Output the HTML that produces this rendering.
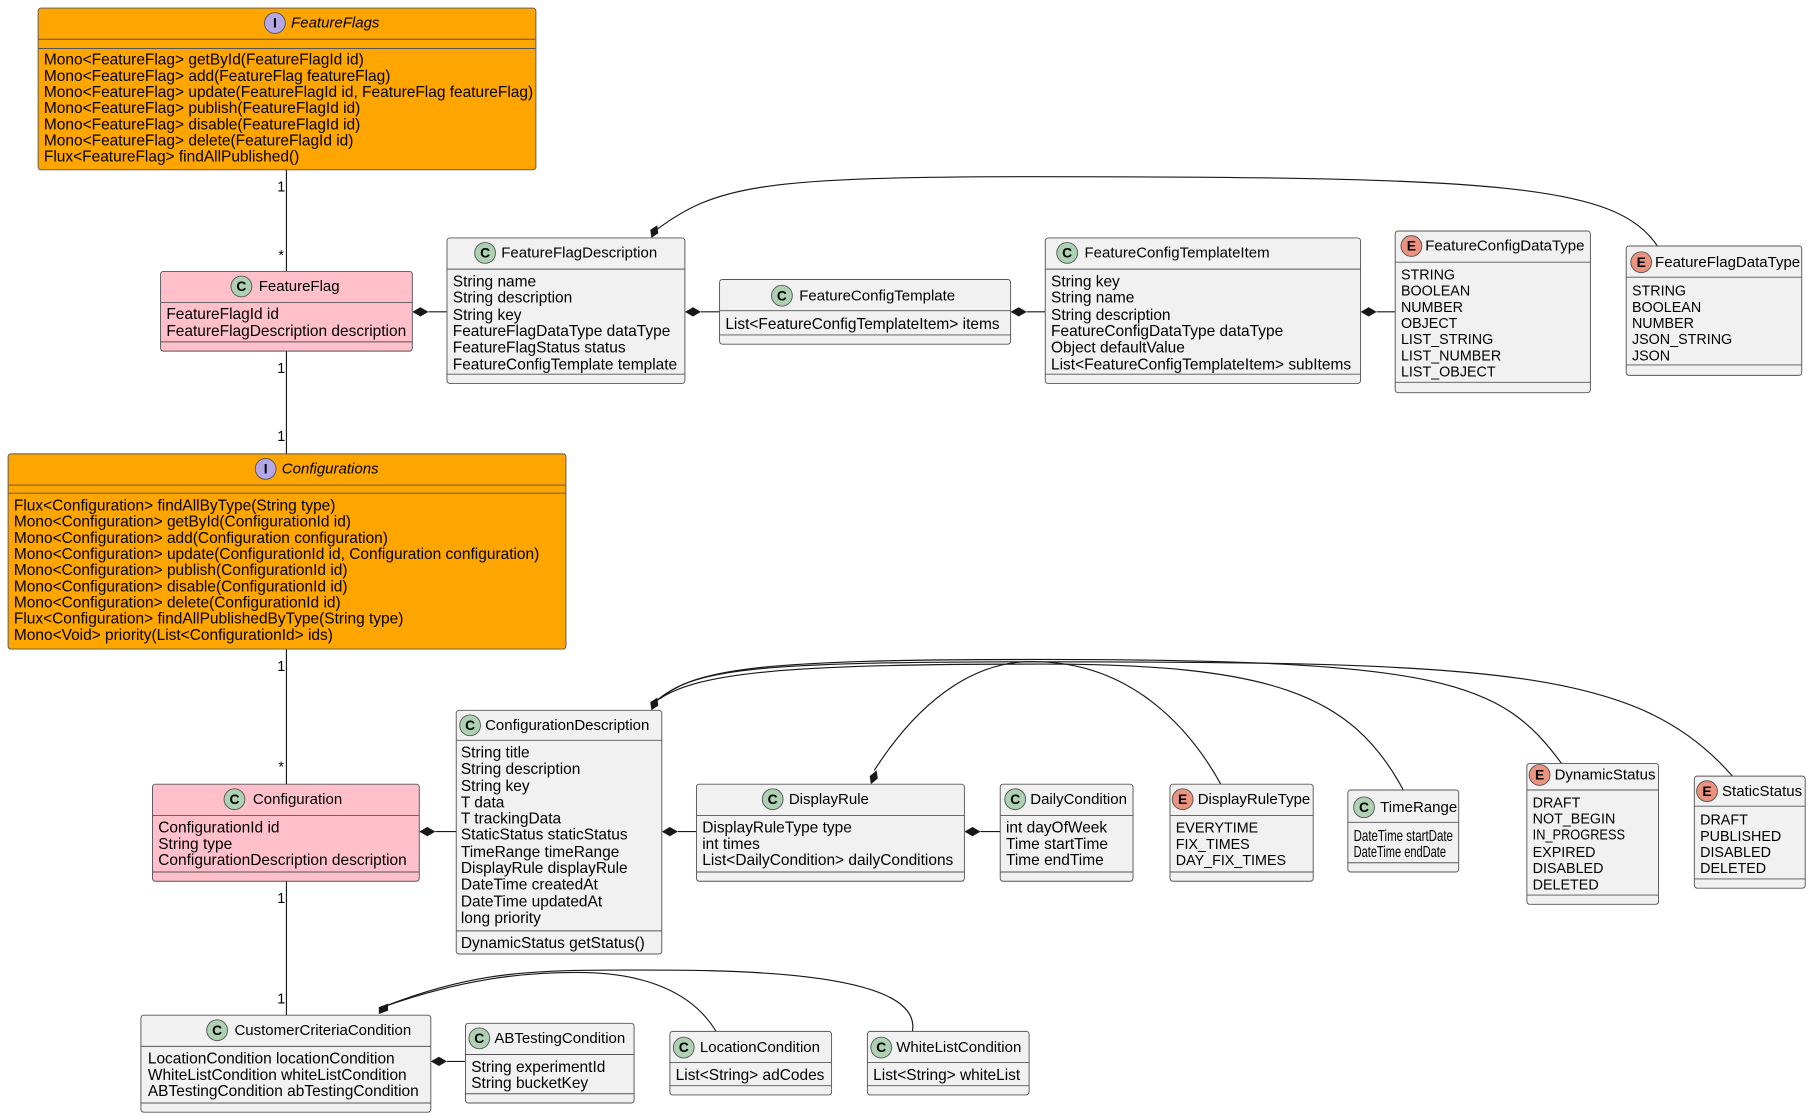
<!DOCTYPE html>
<html><head><meta charset="utf-8"><style>
html,body{margin:0;padding:0;background:#fff;}
svg{display:block;}
text{font-family:"Liberation Sans",sans-serif;font-size:13.4px;fill:#000;}
.e{font-size:12.4px;}
.t{font-size:13px;}
.i{font-style:italic;}
.b{stroke:#555;stroke-width:0.8;}
.l{stroke:#181818;stroke-width:1;fill:none;}
.ic{font-family:"Liberation Sans",sans-serif;font-weight:bold;font-size:12px;text-anchor:middle;}
</style></head><body>
<svg width="1811" height="1118" viewBox="0 0 1568 968" xmlns="http://www.w3.org/2000/svg">
<g class="l">
<path d="M248 147 V235"/><path d="M248 304 V393"/><path d="M248 562 V679"/><path d="M248 763 V879"/>
<path d="M371 270 H387"/><path d="M607 270 H623"/><path d="M889 270 H905"/><path d="M1192 270 H1208"/>
<path d="M377 720 H395"/><path d="M587 720 H603"/><path d="M849 720 H866"/><path d="M387 919 H403"/>
<path d="M567 200 C620 160 660 153 900 153 C1300 153 1400 160 1435 213"/>
<path d="M567 608 C600 580 640 573 900 573 C1300 573 1420 580 1500 672"/>
<path d="M567 608 C600 578 660 571 900 571 C1250 571 1300 590 1352 661"/>
<path d="M567 608 C600 582 680 575 900 575 C1100 575 1170 600 1215 684"/>
<path d="M757 667 C800 600 850 570 900 573 C980 575 1030 630 1057 679"/>
<path d="M334 871 C400 845 450 840 520 840 C600 840 800 835 790 893"/>
<path d="M334 871 C400 848 450 842 500 842 C560 842 600 860 620 893"/>
</g>
<g fill="#181818">
<polygon points="357,270 364,266 371,270 364,274"/><polygon points="593,270 600,266 607,270 600,274"/>
<polygon points="875,270 882,266 889,270 882,274"/><polygon points="1178,270 1185,266 1192,270 1185,274"/>
<polygon points="363,720 370,716 377,720 370,724"/><polygon points="573,720 580,716 587,720 580,724"/>
<polygon points="835,720 842,716 849,720 842,724"/><polygon points="373,919 380,915 387,919 380,923"/>
<polygon points="564,206 563,199 569,195 570,202"/><polygon points="564,615 563,608 569,604 570,611"/>
<polygon points="754,679 753,672 759,667 760,674"/><polygon points="328,878 328,872 336,869 336,875"/>
</g>
<g>
<text class="e" x="240" y="166">1</text><text class="e" x="241" y="225">*</text>
<text class="e" x="240" y="323">1</text><text class="e" x="240" y="382">1</text>
<text class="e" x="240" y="581">1</text><text class="e" x="241" y="668">*</text>
<text class="e" x="240" y="782">1</text><text class="e" x="240" y="869">1</text>
</g>

<rect class="b" x="33" y="7" width="431" height="140" rx="2.5" fill="#FFA500"/>
<path class="b" d="M33 34 H464 M33 42 H464"/>
<circle cx="238" cy="20" r="9" fill="#B4A7E5" stroke="#555" stroke-width="0.8"/><text class="ic" x="238" y="24">I</text>
<text class="t i" x="252" y="24">FeatureFlags</text>
<text x="38" y="56">Mono&lt;FeatureFlag&gt; getById(FeatureFlagId id)</text>
<text x="38" y="70">Mono&lt;FeatureFlag&gt; add(FeatureFlag featureFlag)</text>
<text x="38" y="84">Mono&lt;FeatureFlag&gt; update(FeatureFlagId id, FeatureFlag featureFlag)</text>
<text x="38" y="98">Mono&lt;FeatureFlag&gt; publish(FeatureFlagId id)</text>
<text x="38" y="112">Mono&lt;FeatureFlag&gt; disable(FeatureFlagId id)</text>
<text x="38" y="126">Mono&lt;FeatureFlag&gt; delete(FeatureFlagId id)</text>
<text x="38" y="140">Flux&lt;FeatureFlag&gt; findAllPublished()</text>

<rect class="b" x="139" y="235" width="218" height="69" rx="2.5" fill="#FFC0CB"/>
<path class="b" d="M139 262 H357 M139 296 H357"/>
<circle cx="209" cy="248" r="9" fill="#ADD1B2" stroke="#555" stroke-width="0.8"/><text class="ic" x="209" y="252">C</text>
<text class="t" x="224" y="252">FeatureFlag</text>
<text x="144" y="276">FeatureFlagId id</text>
<text x="144" y="291">FeatureFlagDescription description</text>

<rect class="b" x="387" y="206" width="206" height="126" rx="2.5" fill="#F1F1F1"/>
<path class="b" d="M387 233 H593 M387 324 H593"/>
<circle cx="420" cy="219" r="9" fill="#ADD1B2" stroke="#555" stroke-width="0.8"/><text class="ic" x="420" y="223">C</text>
<text class="t" x="434" y="223">FeatureFlagDescription</text>
<text x="392" y="248">String name</text><text x="392" y="262">String description</text>
<text x="392" y="277">String key</text><text x="392" y="291">FeatureFlagDataType dataType</text>
<text x="392" y="305">FeatureFlagStatus status</text><text x="392" y="320">FeatureConfigTemplate template</text>

<rect class="b" x="623" y="242" width="252" height="56" rx="2.5" fill="#F1F1F1"/>
<path class="b" d="M623 269 H875 M623 290 H875"/>
<circle cx="677" cy="256" r="9" fill="#ADD1B2" stroke="#555" stroke-width="0.8"/><text class="ic" x="677" y="260">C</text>
<text class="t" x="692" y="260">FeatureConfigTemplate</text>
<text x="628" y="285">List&lt;FeatureConfigTemplateItem&gt; items</text>

<rect class="b" x="905" y="206" width="273" height="126" rx="2.5" fill="#F1F1F1"/>
<path class="b" d="M905 233 H1178 M905 324 H1178"/>
<circle cx="924" cy="219" r="9" fill="#ADD1B2" stroke="#555" stroke-width="0.8"/><text class="ic" x="924" y="223">C</text>
<text class="t" x="939" y="223">FeatureConfigTemplateItem</text>
<text x="910" y="248">String key</text><text x="910" y="262">String name</text>
<text x="910" y="277">String description</text><text x="910" y="291">FeatureConfigDataType dataType</text>
<text x="910" y="305">Object defaultValue</text><text x="910" y="320">List&lt;FeatureConfigTemplateItem&gt; subItems</text>

<rect class="b" x="1208" y="200" width="169" height="140" rx="2.5" fill="#F1F1F1"/>
<path class="b" d="M1208 227 H1377 M1208 331 H1377"/>
<circle cx="1222" cy="213" r="9" fill="#EB937F" stroke="#555" stroke-width="0.8"/><text class="ic" x="1222" y="217">E</text>
<text class="t" x="1234" y="217">FeatureConfigDataType</text>
<g class="e"><text class="e" x="1213" y="242">STRING</text><text class="e" x="1213" y="256">BOOLEAN</text><text class="e" x="1213" y="270">NUMBER</text>
<text class="e" x="1213" y="284">OBJECT</text><text class="e" x="1213" y="298">LIST_STRING</text><text class="e" x="1213" y="312">LIST_NUMBER</text><text class="e" x="1213" y="326">LIST_OBJECT</text></g>

<rect class="b" x="1408" y="213" width="152" height="112" rx="2.5" fill="#F1F1F1"/>
<path class="b" d="M1408 240 H1560 M1408 316 H1560"/>
<circle cx="1421" cy="227" r="9" fill="#EB937F" stroke="#555" stroke-width="0.8"/><text class="ic" x="1421" y="231">E</text>
<text class="t" x="1433" y="231">FeatureFlagDataType</text>
<text class="e" x="1413" y="256">STRING</text><text class="e" x="1413" y="270">BOOLEAN</text><text class="e" x="1413" y="284">NUMBER</text>
<text class="e" x="1413" y="298">JSON_STRING</text><text class="e" x="1413" y="312">JSON</text>

<rect class="b" x="7" y="393" width="483" height="169" rx="2.5" fill="#FFA500"/>
<path class="b" d="M7 420 H490 M7 427 H490"/>
<circle cx="230" cy="406" r="9" fill="#B4A7E5" stroke="#555" stroke-width="0.8"/><text class="ic" x="230" y="410">I</text>
<text class="t i" x="244" y="410">Configurations</text>
<text x="12" y="442">Flux&lt;Configuration&gt; findAllByType(String type)</text>
<text x="12" y="456">Mono&lt;Configuration&gt; getById(ConfigurationId id)</text>
<text x="12" y="470">Mono&lt;Configuration&gt; add(Configuration configuration)</text>
<text x="12" y="484">Mono&lt;Configuration&gt; update(ConfigurationId id, Configuration configuration)</text>
<text x="12" y="498">Mono&lt;Configuration&gt; publish(ConfigurationId id)</text>
<text x="12" y="512">Mono&lt;Configuration&gt; disable(ConfigurationId id)</text>
<text x="12" y="526">Mono&lt;Configuration&gt; delete(ConfigurationId id)</text>
<text x="12" y="540">Flux&lt;Configuration&gt; findAllPublishedByType(String type)</text>
<text x="12" y="554">Mono&lt;Void&gt; priority(List&lt;ConfigurationId&gt; ids)</text>

<rect class="b" x="132" y="679" width="231" height="84" rx="2.5" fill="#FFC0CB"/>
<path class="b" d="M132 706 H363 M132 755 H363"/>
<circle cx="203" cy="692" r="9" fill="#ADD1B2" stroke="#555" stroke-width="0.8"/><text class="ic" x="203" y="696">C</text>
<text class="t" x="219" y="696">Configuration</text>
<text x="137" y="721">ConfigurationId id</text><text x="137" y="735">String type</text><text x="137" y="749">ConfigurationDescription description</text>

<rect class="b" x="395" y="615" width="178" height="211" rx="2.5" fill="#F1F1F1"/>
<path class="b" d="M395 641 H573 M395 806 H573"/>
<circle cx="407" cy="628" r="9" fill="#ADD1B2" stroke="#555" stroke-width="0.8"/><text class="ic" x="407" y="632">C</text>
<text class="t" x="420" y="632">ConfigurationDescription</text>
<text x="399" y="656">String title</text><text x="399" y="670">String description</text><text x="399" y="685">String key</text>
<text x="399" y="699">T data</text><text x="399" y="713">T trackingData</text><text x="399" y="727">StaticStatus staticStatus</text>
<text x="399" y="742">TimeRange timeRange</text><text x="399" y="756">DisplayRule displayRule</text><text x="399" y="770">DateTime createdAt</text>
<text x="399" y="785">DateTime updatedAt</text><text x="399" y="799">long priority</text>
<text x="399" y="821">DynamicStatus getStatus()</text>

<rect class="b" x="603" y="679" width="232" height="84" rx="2.5" fill="#F1F1F1"/>
<path class="b" d="M603 706 H835 M603 755 H835"/>
<circle cx="669" cy="692" r="9" fill="#ADD1B2" stroke="#555" stroke-width="0.8"/><text class="ic" x="669" y="696">C</text>
<text class="t" x="683" y="696">DisplayRule</text>
<text x="608" y="721">DisplayRuleType type</text><text x="608" y="735">int times</text><text x="608" y="749">List&lt;DailyCondition&gt; dailyConditions</text>

<rect class="b" x="866" y="679" width="115" height="84" rx="2.5" fill="#F1F1F1"/>
<path class="b" d="M866 706 H981 M866 755 H981"/>
<circle cx="879" cy="692" r="9" fill="#ADD1B2" stroke="#555" stroke-width="0.8"/><text class="ic" x="879" y="696">C</text>
<text class="t" x="892" y="696">DailyCondition</text>
<text x="871" y="721">int dayOfWeek</text><text x="871" y="735">Time startTime</text><text x="871" y="749">Time endTime</text>

<rect class="b" x="1013" y="679" width="124" height="84" rx="2.5" fill="#F1F1F1"/>
<path class="b" d="M1013 706 H1137 M1013 755 H1137"/>
<circle cx="1024" cy="692" r="9" fill="#EB937F" stroke="#555" stroke-width="0.8"/><text class="ic" x="1024" y="696">E</text>
<text class="t" x="1037" y="696">DisplayRuleType</text>
<text class="e" x="1018" y="721">EVERYTIME</text><text class="e" x="1018" y="735">FIX_TIMES</text><text class="e" x="1018" y="749">DAY_FIX_TIMES</text>

<rect class="b" x="1167" y="684" width="96" height="71" rx="2.5" fill="#F1F1F1"/>
<path class="b" d="M1167 712 H1263 M1167 747 H1263"/>
<circle cx="1181" cy="699" r="9" fill="#ADD1B2" stroke="#555" stroke-width="0.8"/><text class="ic" x="1181" y="703">C</text>
<text class="t" x="1195" y="703">TimeRange</text>
<text x="1172" y="728" textLength="86" lengthAdjust="spacingAndGlyphs">DateTime startDate</text><text x="1172" y="742" textLength="80" lengthAdjust="spacingAndGlyphs">DateTime endDate</text>

<rect class="b" x="1322" y="661" width="114" height="122" rx="2.5" fill="#F1F1F1"/>
<path class="b" d="M1322 684 H1436 M1322 775 H1436"/>
<circle cx="1333" cy="671" r="9" fill="#EB937F" stroke="#555" stroke-width="0.8"/><text class="ic" x="1333" y="675">E</text>
<text class="t" x="1346" y="675">DynamicStatus</text>
<text class="e" x="1327" y="699">DRAFT</text><text class="e" x="1327" y="713">NOT_BEGIN</text><text class="e" x="1327" y="727" textLength="80" lengthAdjust="spacingAndGlyphs">IN_PROGRESS</text>
<text class="e" x="1327" y="742">EXPIRED</text><text class="e" x="1327" y="756">DISABLED</text><text class="e" x="1327" y="770">DELETED</text>

<rect class="b" x="1467" y="672" width="96" height="97" rx="2.5" fill="#F1F1F1"/>
<path class="b" d="M1467 698 H1563 M1467 761 H1563"/>
<circle cx="1478" cy="685" r="9" fill="#EB937F" stroke="#555" stroke-width="0.8"/><text class="ic" x="1478" y="689">E</text>
<text class="t" x="1491" y="689">StaticStatus</text>
<text class="e" x="1472" y="714">DRAFT</text><text class="e" x="1472" y="728">PUBLISHED</text><text class="e" x="1472" y="742">DISABLED</text><text class="e" x="1472" y="756">DELETED</text>

<rect class="b" x="122" y="879" width="251" height="84" rx="2.5" fill="#F1F1F1"/>
<path class="b" d="M122 906 H373 M122 955 H373"/>
<circle cx="188" cy="892" r="9" fill="#ADD1B2" stroke="#555" stroke-width="0.8"/><text class="ic" x="188" y="896">C</text>
<text class="t" x="203" y="896">CustomerCriteriaCondition</text>
<text x="128" y="921">LocationCondition locationCondition</text><text x="128" y="935">WhiteListCondition whiteListCondition</text><text x="128" y="949">ABTestingCondition abTestingCondition</text>

<rect class="b" x="403" y="886" width="146" height="69" rx="2.5" fill="#F1F1F1"/>
<path class="b" d="M403 913 H549 M403 947 H549"/>
<circle cx="415" cy="899" r="9" fill="#ADD1B2" stroke="#555" stroke-width="0.8"/><text class="ic" x="415" y="903">C</text>
<text class="t" x="428" y="903">ABTestingCondition</text>
<text x="408" y="928">String experimentId</text><text x="408" y="942">String bucketKey</text>

<rect class="b" x="580" y="893" width="140" height="55" rx="2.5" fill="#F1F1F1"/>
<path class="b" d="M580 920 H720 M580 940 H720"/>
<circle cx="592" cy="907" r="9" fill="#ADD1B2" stroke="#555" stroke-width="0.8"/><text class="ic" x="592" y="911">C</text>
<text class="t" x="606" y="911">LocationCondition</text>
<text x="585" y="935">List&lt;String&gt; adCodes</text>

<rect class="b" x="751" y="893" width="140" height="55" rx="2.5" fill="#F1F1F1"/>
<path class="b" d="M751 920 H891 M751 940 H891"/>
<circle cx="763" cy="907" r="9" fill="#ADD1B2" stroke="#555" stroke-width="0.8"/><text class="ic" x="763" y="911">C</text>
<text class="t" x="776" y="911">WhiteListCondition</text>
<text x="756" y="935">List&lt;String&gt; whiteList</text>
</svg>
</body></html>
